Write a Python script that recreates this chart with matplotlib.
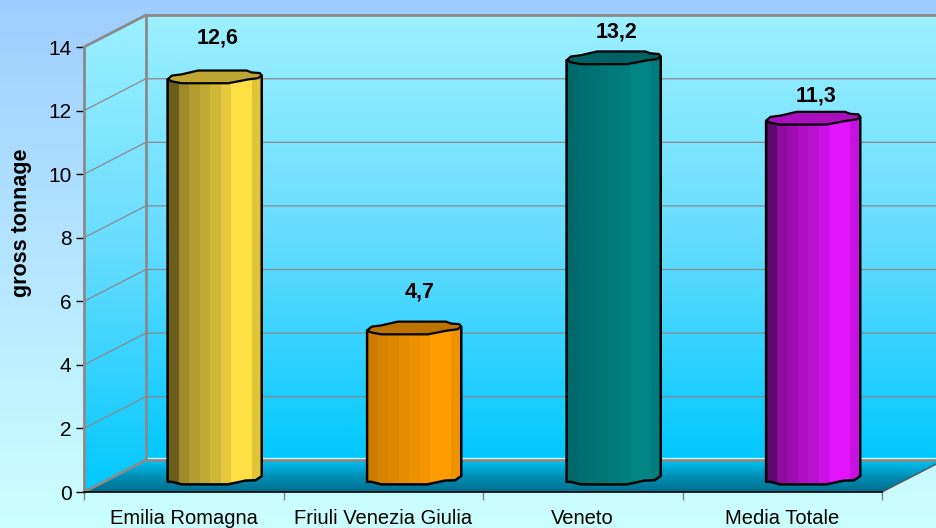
import numpy as np
import matplotlib
matplotlib.use('Agg')
import matplotlib.pyplot as plt
from matplotlib.colors import LinearSegmentedColormap, ListedColormap, to_rgb
from matplotlib.patches import Polygon

plt.rcParams['font.family'] = ['Liberation Sans', 'DejaVu Sans']

categories = ['Emilia Romagna', 'Friuli Venezia Giulia', 'Veneto', 'Media Totale']
values = [12.6, 4.7, 13.2, 11.3]
value_labels = ['12,6', '4,7', '13,2', '11,3']
bar_colors = ['#ffe044', '#ff9c00', '#008484', '#e414ff']
y_ticks = [0, 2, 4, 6, 8, 10, 12, 14]
y_label = 'gross tonnage'

# depth of the fake 3d box, in data units
dx = 0.31
dy = 1.0
# shading of the cylinders, left to right
strong = [0.42, 0.62, 0.70, 0.76, 0.82, 0.90, 1.0, 1.0, 0.88]
mild = [0.80, 0.84, 0.87, 0.90, 0.93, 0.96, 1.0, 1.0, 0.94]
bar_bands = [strong, mild, mild, strong]
label_offsets = [1.68, 1.59, 1.27, 1.15]
label_shift = [0.012, 0.025, 0.012, 0.012]
# rough outline of lid and foot, x in half widths, y in data units
lid_x = [-1, -0.91, -0.70, -0.35, 0.68, 0.78, 0.96, 1, 0.92, 0.71, 0.29, -0.70, -0.91]
lid_y = [-0.12, 0.0, 0.04, 0.16, 0.16, 0.10, 0.08, 0.0, -0.08, -0.12, -0.24, -0.24, -0.18]
foot_x = [-1, -0.91, -0.70, 0.28, 0.66, 0.87, 1]
foot_y = [-0.18, -0.18, -0.26, -0.26, -0.14, -0.13, 0.0]


def grad(colors):
    return LinearSegmentedColormap.from_list('g', colors)


fig = plt.figure(figsize=(9.36, 5.28), dpi=100)

# page background
bg = fig.add_axes([0, 0, 1, 1], zorder=0)
bg.imshow(np.linspace(0, 1, 256).reshape(-1, 1), aspect='auto',
          cmap=grad(['#9fcdff', '#ccffff']))
bg.axis('off')

ax = fig.add_axes([84 / 936, 36 / 528, 798 / 936, 445 / 528], zorder=1)
ax.patch.set_alpha(0)


def fill(poly, extent, colors):
    patch = Polygon(poly, closed=True, transform=ax.transData, fc='none', ec='none')
    ax.add_patch(patch)
    im = ax.imshow(np.linspace(0, 1, 256).reshape(-1, 1), extent=extent, aspect='auto',
                   cmap=grad(colors), origin='upper', zorder=1)
    im.set_clip_box(fig.bbox)
    im.set_clip_path(patch)


wall = ['#9cf0ff', '#66dcff', '#00c8ff']
top = 14 + dy
fill([(dx, dy), (4.5, dy), (4.5, top), (dx, top)], [dx, 4.5, dy, top], wall)
fill([(0, 0), (dx, dy), (dx, top), (0, 14)], [0, dx, 0, top], wall)
fill([(0, 0), (4, 0), (4 + dx, dy), (dx, dy)], [0, 4 + dx, 0, dy], ['#00c4f4', '#0090b8', '#006e8c'])

# grid on both walls
for v in y_ticks[1:]:
    ax.plot([0, dx, 4.5], [v, v + dy, v + dy], color='#8a8a8a', lw=0.9, zorder=2, clip_on=False)
# box edges
ax.plot([dx, 4.5], [dy, dy], color='#8a8a8a', lw=2, zorder=2, clip_on=False)
ax.plot([dx, 4.5], [dy + 0.07, dy + 0.07], color='#d8f8ff', lw=0.9, zorder=2, clip_on=False)
ax.plot([dx, 4.5], [top, top], color='#8a8a8a', lw=2, zorder=2, clip_on=False)
ax.plot([dx, dx], [dy, top], color='#8a8a8a', lw=2, zorder=2, clip_on=False)
ax.plot([0, dx], [14, top], color='#8a8a8a', lw=2, zorder=2, clip_on=False)
ax.plot([0, dx], [0, dy], color='#8a8a8a', lw=2, zorder=2, clip_on=False)
ax.plot([0, 0], [0, 14], color='#8a8a8a', lw=2, zorder=2, clip_on=False)
ax.plot([4, 4 + dx], [0, dy], color='#555555', lw=1, zorder=2, clip_on=False)

# cylinders
half_w = 0.236
for i, (val, col, lab) in enumerate(zip(values, bar_colors, value_labels)):
    cx = i + 0.5 + dx / 2
    cy = dy / 2
    base = to_rgb(col)
    bands = bar_bands[i]
    body = [(cx + a * half_w, cy + b) for a, b in zip(foot_x, foot_y)]
    body += [(cx + half_w, cy + val), (cx - half_w, cy + val - 0.12)]
    patch = Polygon(body, closed=True, fc='none', ec='black', lw=1.8, zorder=4, clip_on=False,
                    joinstyle='round')
    ax.add_patch(patch)
    cmap = ListedColormap([tuple(c * b for c in base) for b in bands])
    im = ax.imshow(np.arange(len(bands)).reshape(1, -1), extent=[cx - half_w, cx + half_w, 0, cy + val + 0.3],
                   aspect='auto', cmap=cmap, interpolation='nearest', zorder=3)
    im.set_clip_box(fig.bbox)
    im.set_clip_path(patch)
    lid = [(cx + a * half_w, cy + val + b) for a, b in zip(lid_x, lid_y)]
    ax.add_patch(Polygon(lid, closed=True, fc=tuple(c * 0.74 for c in base), ec='black', lw=1.6,
                         zorder=5, clip_on=False, joinstyle='round'))
    ax.text(cx + label_shift[i], val + label_offsets[i], lab, ha='center', va='center', fontsize=15.5,
            fontweight='bold', color='black', zorder=6)

ax.set_xlim(0, 4)
ax.set_ylim(0, 14)
ax.set_xticks(range(5))
ax.set_xticklabels([])
for i, c in enumerate(categories):
    ax.text(i + 0.5, -0.53, c, ha='center', va='top', fontsize=14.5, color='black')
ax.set_yticks(y_ticks)
ax.tick_params(axis='y', length=6, width=1, labelsize=15, pad=3)
ax.tick_params(axis='x', length=6, width=1, color='#808080')
for s in ['top', 'right', 'left']:
    ax.spines[s].set_visible(False)
ax.spines['bottom'].set_linewidth(1.2)
ax.spines['bottom'].set_zorder(7)

fig.text(22 / 936, 1 - 222.5 / 528, y_label, rotation=90, ha='center', va='center',
         fontsize=15.5, fontweight='bold')

fig.savefig('out.png', dpi=100)
